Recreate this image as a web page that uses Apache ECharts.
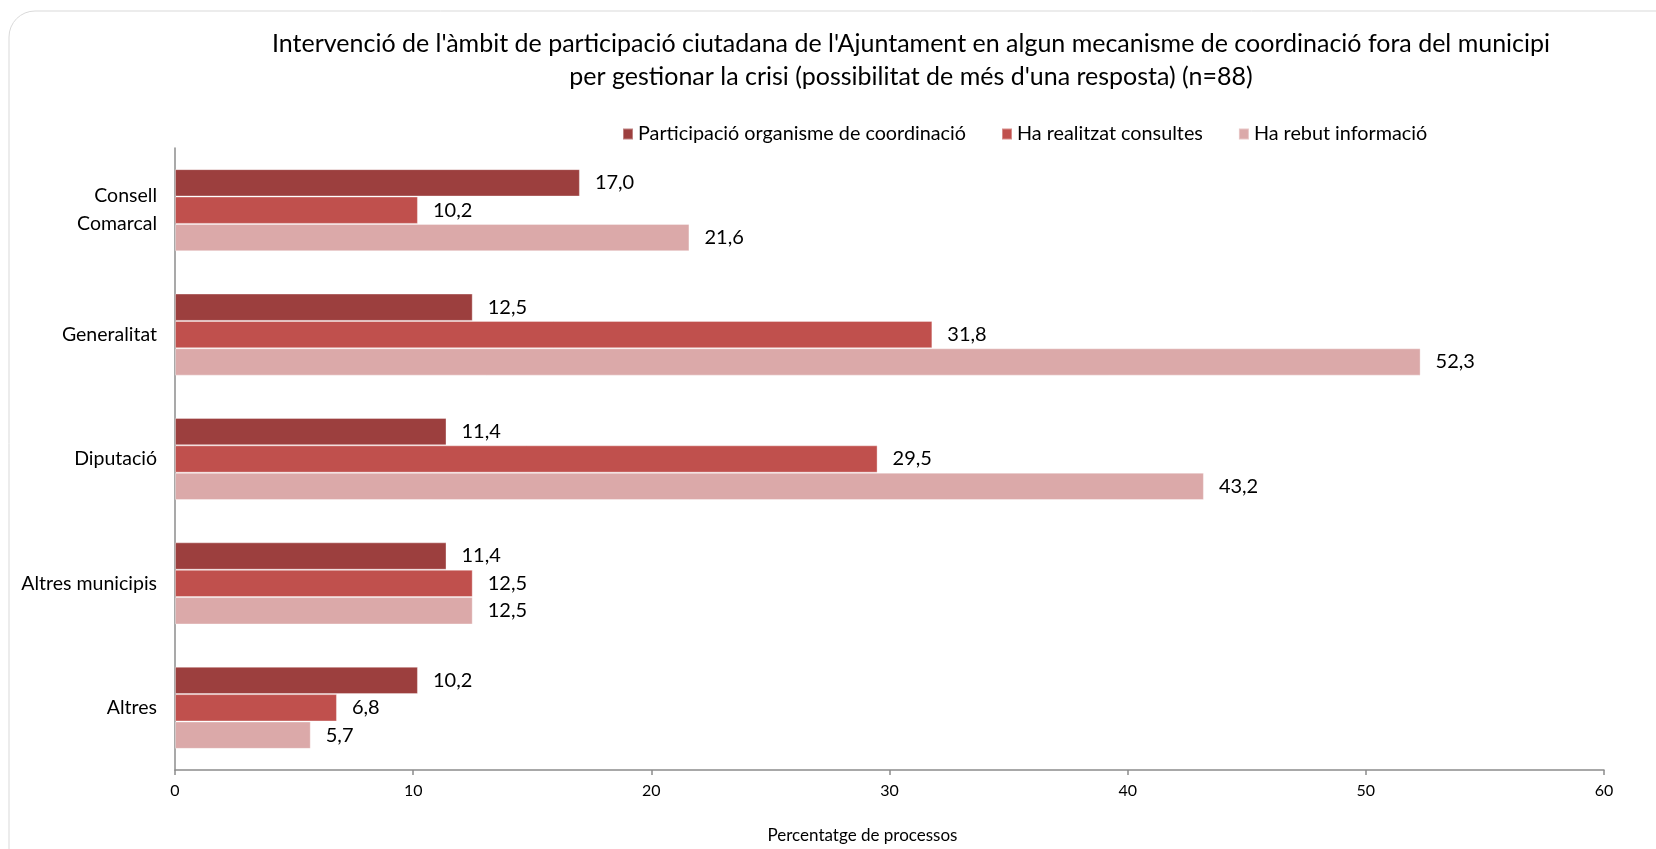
<!DOCTYPE html>
<html>
<head>
<meta charset="utf-8">
<script src="https://cdn.jsdelivr.net/npm/echarts@6/dist/echarts.min.js"></script>
<style>
html,body{margin:0;padding:0;background:#fff;}
#chart{width:1656px;height:849px;}
</style>
</head>
<body>
<div id="chart"></div>
<script>
const categories = ['Consell\nComarcal', 'Generalitat', 'Diputació', 'Altres municipis', 'Altres'];
const seriesNames = ['Participació organisme de coordinació', 'Ha realitzat consultes', 'Ha rebut informació'];
const participacio = [17.0, 12.5, 11.4, 11.4, 10.2];
const consultes = [10.2, 31.8, 29.5, 12.5, 6.8];
const informacio = [21.6, 52.3, 43.2, 12.5, 5.7];
const xTicks = [0, 10, 20, 30, 40, 50, 60];
const titleLines = [
  "Intervenció de l'àmbit de participació ciutadana de l'Ajuntament en algun mecanisme de coordinació fora del municipi",
  "per gestionar la crisi (possibilitat de més d'una resposta) (n=88)"
];
const xAxisName = 'Percentatge de processos';

const colors = ['#9C3F3E', '#C0504D', '#DBA9A9'];
const FONT = 'Lato';

const chart = echarts.init(document.getElementById('chart'));
const fmt = v => v.toFixed(1).replace('.', ',');
const values = [participacio, consultes, informacio];

chart.setOption({
  animation: false,
  textStyle: { fontFamily: FONT },
  graphic: [
    { type: 'rect', shape: { x: 9, y: 11, width: 1700, height: 900, r: 26 },
      style: { fill: 'none', stroke: '#d9d9d9', lineWidth: 1 }, silent: true },
    { type: 'text', x: 911, y: 44, style: { text: titleLines[0], fontFamily: FONT, fontSize: 25,
      fill: '#000', align: 'center', verticalAlign: 'middle' } },
    { type: 'text', x: 911, y: 77, style: { text: titleLines[1], fontFamily: FONT, fontSize: 25,
      fill: '#000', align: 'center', verticalAlign: 'middle' } }
  ],
  legend: {
    left: 617, top: 119,
    itemWidth: 10, itemHeight: 11, itemGap: 35,
    icon: 'rect',
    textStyle: { fontFamily: FONT, fontSize: 19.8, color: '#000' },
    data: seriesNames
  },
  grid: { left: 175, right: 52, top: 148, bottom: 78, containLabel: false },
  xAxis: {
    type: 'value', min: 0, max: 60, interval: 10,
    name: xAxisName, nameLocation: 'middle', nameGap: 57,
    nameTextStyle: { fontFamily: FONT, fontSize: 17, color: '#000', padding: [0, 54, 0, 0] },
    axisLine: { show: true, lineStyle: { color: '#8c8c8c', width: 1.5 } },
    axisTick: { show: true, length: 5, lineStyle: { color: '#8c8c8c', width: 1.5 } },
    axisLabel: { fontFamily: FONT, fontSize: 16, color: '#000', margin: 13,
      formatter: v => xTicks.includes(v) ? String(v) : '' },
    splitLine: { show: false }
  },
  yAxis: {
    type: 'category', inverse: true, data: categories,
    axisLine: { show: true, lineStyle: { color: '#8c8c8c', width: 1.5 } },
    axisTick: { show: false },
    axisLabel: { fontFamily: FONT, fontSize: 19.5, color: '#000', margin: 18, lineHeight: 28, align: 'right' }
  },
  series: seriesNames.map((name, i) => ({
    name, type: 'bar', data: values[i],
    barGap: '0%', barCategoryGap: '34%',
    itemStyle: { color: colors[i], borderColor: 'rgba(255,255,255,0.35)', borderWidth: 1 },
    label: { show: true, position: 'right', distance: 15, fontFamily: FONT, fontSize: 20, color: '#000',
      formatter: p => fmt(p.value) }
  }))
});
</script>
</body>
</html>
